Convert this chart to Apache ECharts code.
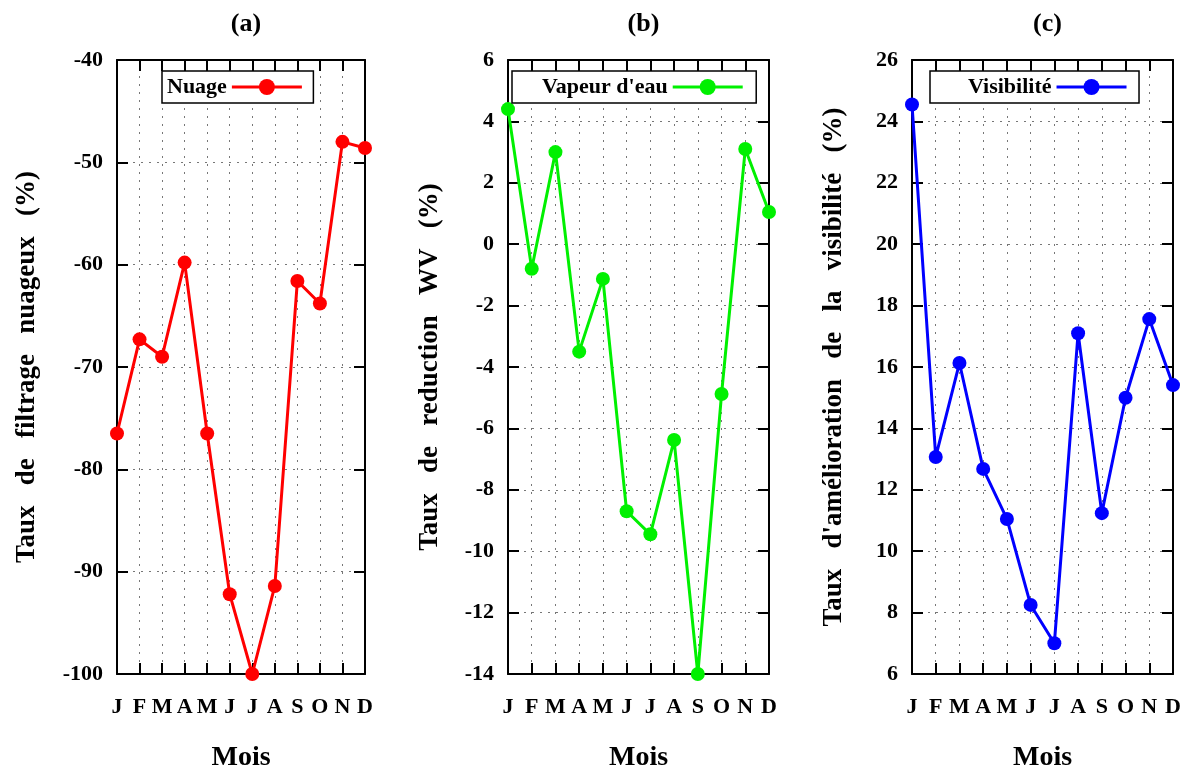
<!DOCTYPE html>
<html>
<head>
<meta charset="utf-8">
<script src="https://cdn.jsdelivr.net/npm/echarts@6/dist/echarts.min.js"></script>
<style>
  html, body { margin: 0; padding: 0; background: #fff; }
  #chart { width: 1185px; height: 772px; }
</style>
</head>
<body>
<div id="chart"></div>
<script>
  // mois
  var months = ['J', 'F', 'M', 'A', 'M', 'J', 'J', 'A', 'S', 'O', 'N', 'D'];

  // (a) nuage
  var nuage = [-76.5, -67.3, -69.0, -59.8, -76.5, -92.2, -100, -91.4, -61.6, -63.8, -48.0, -48.6];
  // (b) vapeur d'eau
  var vapeur = [4.4, -0.8, 3.0, -3.5, -1.13, -8.7, -9.45, -6.38, -14, -4.88, 3.1, 1.05];
  // (c) visibilite
  var visibilite = [24.55, 13.07, 16.13, 12.68, 11.05, 8.25, 7.0, 17.1, 11.24, 15.0, 17.56, 15.41];

  var font = 'Liberation Serif';

  var panels = [
    { title: '(a)', name: 'Nuage', data: nuage, color: '#ff0000', min: -100, max: -40, step: 10,
      yName: 'Taux   de   filtrage   nuageux   (%)', left: 117, width: 248, nameGap: 76,
      legend: { left: 162, padding: [5, 10, 5, 5] } },
    { title: '(b)', name: "Vapeur d'eau", data: vapeur, color: '#00f000', min: -14, max: 6, step: 2,
      yName: 'Taux   de   reduction   WV   (%)', left: 508, width: 261, nameGap: 64,
      legend: { left: 512, padding: [5, 12, 5, 30] } },
    { title: '(c)', name: 'Visibilité', data: visibilite, color: '#0000ff', min: 6, max: 26, step: 2,
      yName: "Taux   d'amélioration   de   la   visibilité   (%)", left: 912, width: 261, nameGap: 64,
      legend: { left: 930, padding: [5, 11, 5, 38] } }
  ];

  var gridTop = 60, gridHeight = 614;
  var grid = [], xAxis = [], yAxis = [], series = [], title = [], legend = [];

  panels.forEach(function (p, i) {
    grid.push({ left: p.left, top: gridTop, width: p.width, height: gridHeight,
      containLabel: false, outerBoundsMode: 'none' });

    title.push({
      text: p.title,
      left: p.left + p.width / 2,
      top: 6,
      textAlign: 'center',
      textStyle: { fontFamily: font, fontWeight: 'bold', fontSize: 26, color: '#000' }
    });

    // axe du bas
    xAxis.push({
      type: 'category', gridIndex: i, data: months, boundaryGap: false,
      name: 'Mois', nameLocation: 'middle', nameGap: 70,
      nameTextStyle: { fontFamily: font, fontWeight: 'bold', fontSize: 28, color: '#000' },
      axisLine: { onZero: false, lineStyle: { color: '#000', width: 2 } },
      axisTick: { inside: true, length: 11, interval: 0, lineStyle: { color: '#000', width: 2 } },
      axisLabel: { interval: 0, margin: 22, fontFamily: font, fontWeight: 'bold', fontSize: 22, color: '#000' },
      splitLine: { show: true, interval: 0, lineStyle: { color: '#777', type: [2, 6], width: 1 } }
    });
    // axe du haut (ticks miroir)
    xAxis.push({
      type: 'category', gridIndex: i, data: months, boundaryGap: false, position: 'top',
      axisLine: { onZero: false, lineStyle: { color: '#000', width: 2 } },
      axisTick: { inside: true, length: 11, interval: 0, lineStyle: { color: '#000', width: 2 } },
      axisLabel: { show: false },
      splitLine: { show: false }
    });

    yAxis.push({
      type: 'value', gridIndex: i, min: p.min, max: p.max, interval: p.step,
      name: p.yName, nameLocation: 'middle', nameGap: p.nameGap,
      nameTextStyle: { fontFamily: font, fontWeight: 'bold', fontSize: 27, color: '#000' },
      axisLine: { show: true, onZero: false, lineStyle: { color: '#000', width: 2 } },
      axisTick: { show: true, inside: true, length: 11, lineStyle: { color: '#000', width: 2 } },
      axisLabel: { margin: 14, fontFamily: font, fontWeight: 'bold', fontSize: 22, color: '#000' },
      splitLine: { show: true, lineStyle: { color: '#777', type: [2, 6], width: 1 } }
    });
    yAxis.push({
      type: 'value', gridIndex: i, min: p.min, max: p.max, interval: p.step, position: 'right',
      axisLine: { show: true, onZero: false, lineStyle: { color: '#000', width: 2 } },
      axisTick: { show: true, inside: true, length: 11, lineStyle: { color: '#000', width: 2 } },
      axisLabel: { show: false },
      splitLine: { show: false }
    });

    series.push({
      name: p.name, type: 'line', xAxisIndex: i * 2, yAxisIndex: i * 2,
      data: p.data, symbol: 'circle', symbolSize: 14, clip: false,
      color: p.color,
      lineStyle: { color: p.color, width: 3 },
      itemStyle: { color: p.color }
    });

    legend.push({
      data: [p.name], left: p.legend.left, top: 71, align: 'right',
      itemWidth: 70, itemHeight: 20,
      padding: p.legend.padding,
      backgroundColor: '#fff', borderColor: '#000', borderWidth: 1.5, borderRadius: 0,
      selectedMode: false,
      lineStyle: { width: 3 },
      textStyle: { fontFamily: font, fontWeight: 'bold', fontSize: 22, color: '#000' }
    });
  });

  var chart = echarts.init(document.getElementById('chart'));
  chart.setOption({
    animation: false,
    backgroundColor: '#fff',
    title: title,
    legend: legend,
    grid: grid,
    xAxis: xAxis,
    yAxis: yAxis,
    series: series
  });
</script>
</body>
</html>
